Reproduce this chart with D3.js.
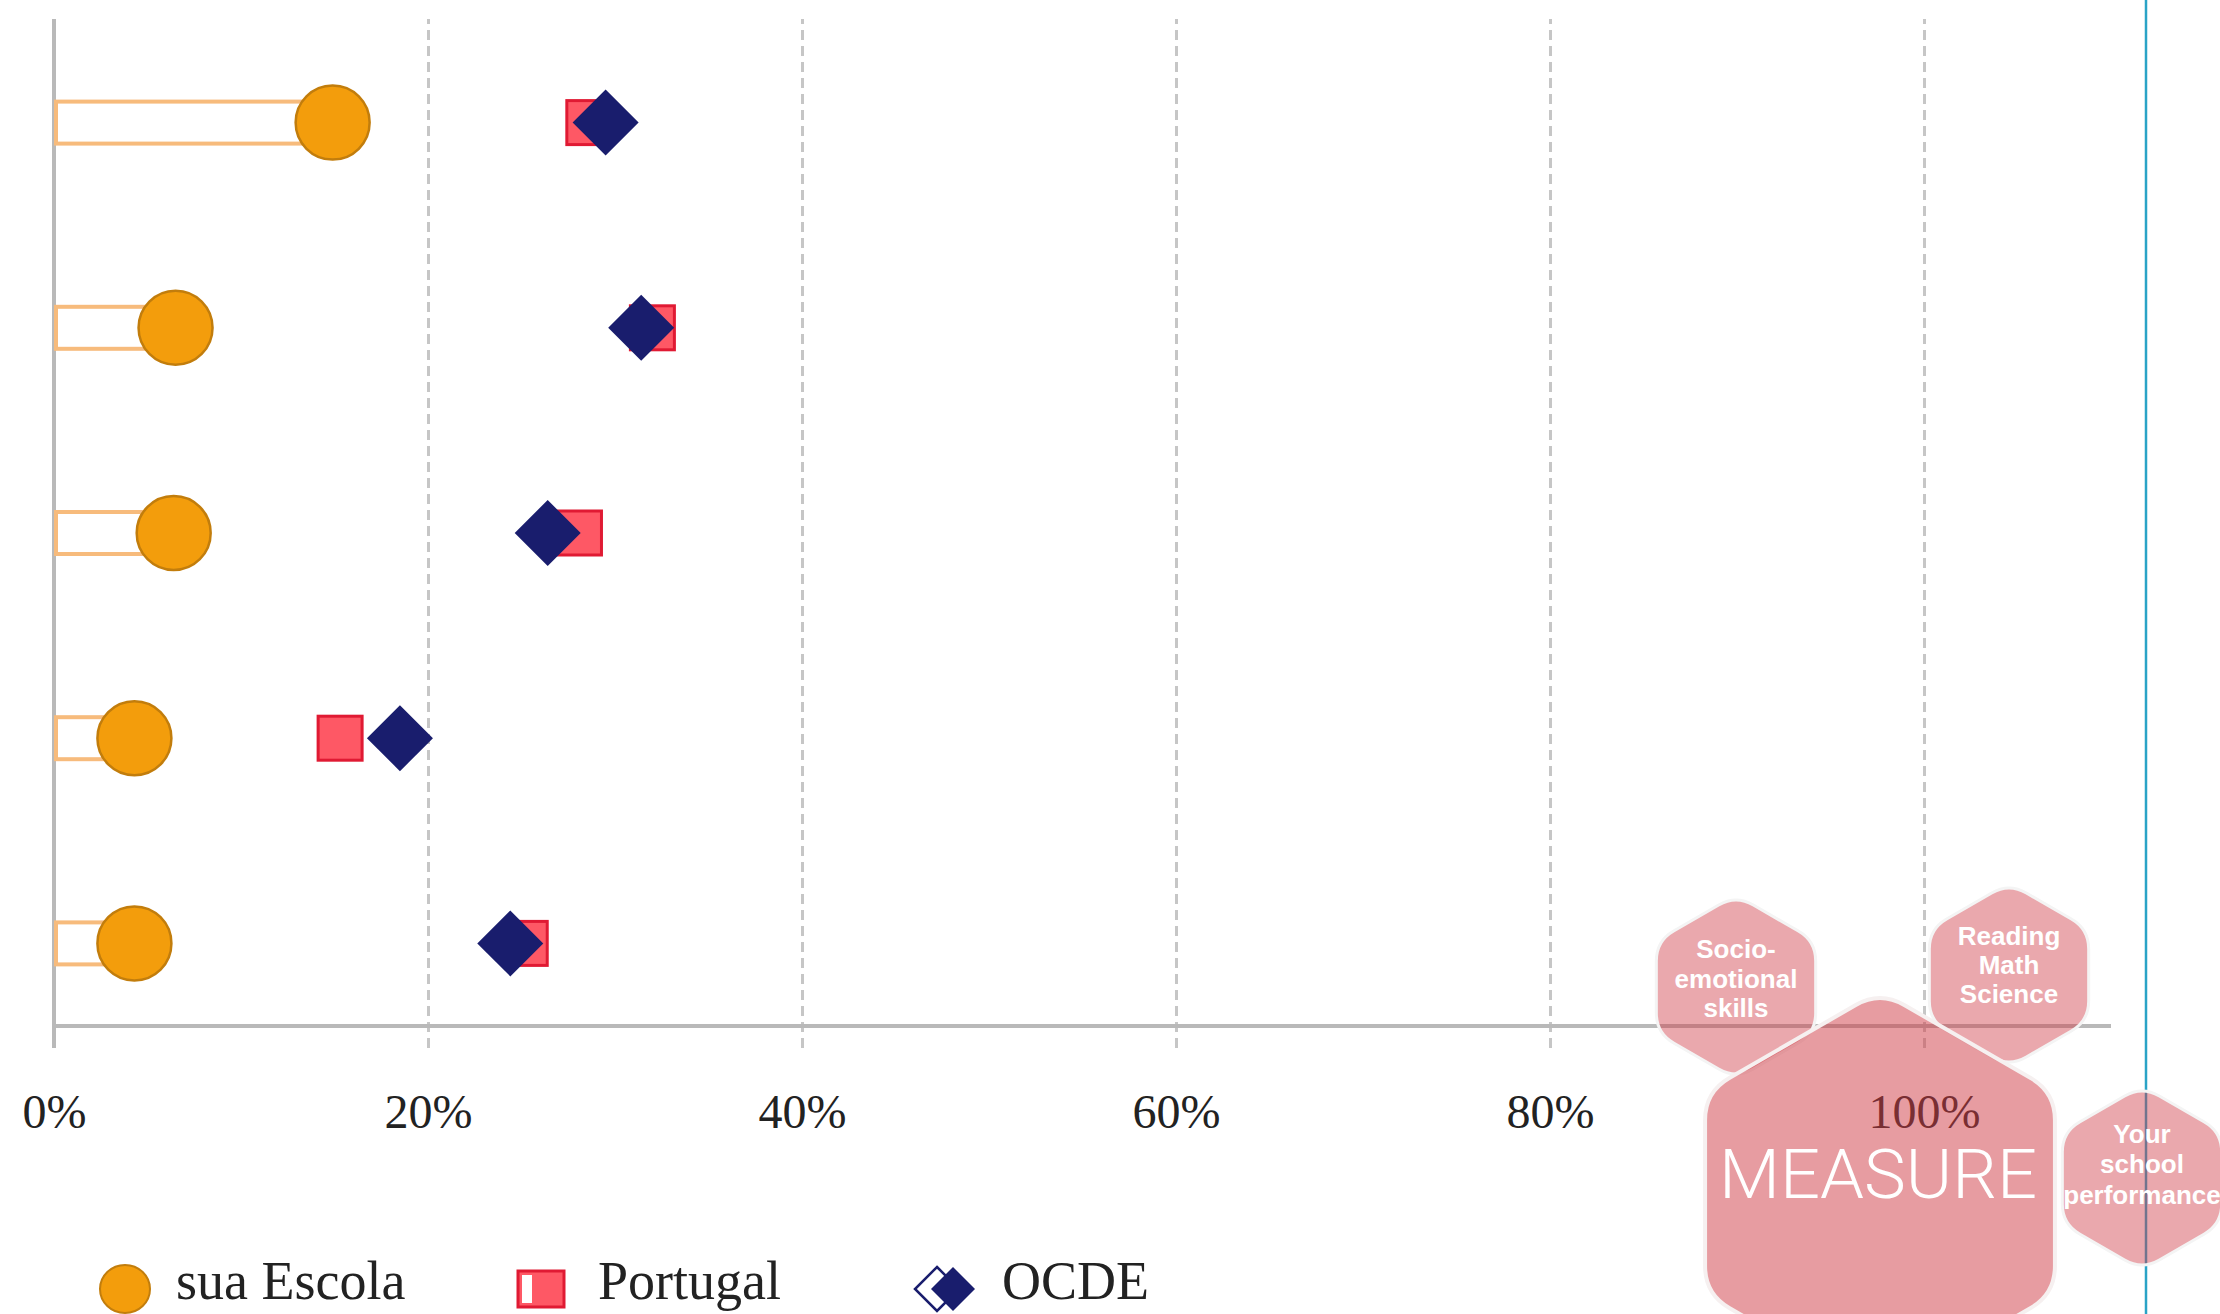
<!DOCTYPE html>
<html>
<head>
<meta charset="utf-8">
<script src="https://cdn.jsdelivr.net/npm/d3@7"></script>
<style>
  html, body { margin: 0; padding: 0; background: #ffffff; }
  svg { display: block; }
</style>
</head>
<body>
<svg id="chart" width="2220" height="1314"></svg>
<script>
// ---------- data ----------
const categories = ["Item 1", "Item 2", "Item 3", "Item 4", "Item 5"];
const escola   = [14.9, 6.5, 6.4, 4.3, 4.3];
const portugal = [28.6, 32.0, 28.1, 15.3, 25.2];
const ocde     = [29.5, 31.4, 26.4, 18.5, 24.4];
const tickValues = [0, 20, 40, 60, 80, 100];
const tickLabels = ["0%", "20%", "40%", "60%", "80%", "100%"];
const seriesNames = ["sua Escola", "Portugal", "OCDE"];
const hexSmallLabels = [
  ["Socio-", "emotional", "skills"],
  ["Reading", "Math", "Science"],
  ["Your", "school", "performance"]
];
const hexBigLabel = "MEASURE";

// ---------- setup ----------
const svg = d3.select("#chart");
const x = d3.scaleLinear().domain([0, 100]).range([54, 1924]);
const y = d3.scaleBand().domain(categories).range([20, 1046]).padding(0);
const cy = d => y(d) + y.bandwidth() / 2;
const axisY = 1026, gridTop = 19, gridBottom = 1048;

const C = {
  orange: "#f39d0c", orangeStroke: "#c27d0c", barStroke: "#f7bb7c",
  red: "#fe5865", redStroke: "#e01a33", navy: "#191d6d",
  grid: "#c6c6c6", axis: "#b9b9b9"
};

// ---------- gridlines ----------
const grid = svg.append("g")
  .attr("transform", `translate(0,${gridBottom})`)
  .call(d3.axisBottom(x).tickValues(tickValues.filter(v => v > 0))
    .tickSize(-(gridBottom - gridTop)).tickFormat(""));
grid.select(".domain").remove();
grid.selectAll(".tick line")
  .attr("stroke", C.grid).attr("stroke-width", 3).attr("stroke-dasharray", "10,6");

// vertical axis line at 0
svg.append("line")
  .attr("x1", x(0)).attr("x2", x(0)).attr("y1", gridTop).attr("y2", gridBottom)
  .attr("stroke", C.axis).attr("stroke-width", 4);

// horizontal axis line
svg.append("line")
  .attr("x1", x(0)).attr("x2", x(110)).attr("y1", axisY).attr("y2", axisY)
  .attr("stroke", C.axis).attr("stroke-width", 4);

// tick labels
const ax = svg.append("g")
  .attr("transform", `translate(0,${axisY})`)
  .call(d3.axisBottom(x).tickValues(tickValues).tickSize(0)
    .tickFormat((d, i) => tickLabels[i]));
ax.select(".domain").remove();
ax.selectAll(".tick text")
  .attr("y", 102).attr("dy", 0)
  .attr("fill", "#222")
  .style("font-family", "'Liberation Serif', 'DejaVu Serif', serif")
  .style("font-size", "48px");

// ---------- marks ----------
const rows = categories.map((c, i) => ({ c, e: escola[i], p: portugal[i], o: ocde[i] }));

// bars (outlined)
svg.append("g").selectAll("rect").data(rows).join("rect")
  .attr("x", x(0) + 2)
  .attr("y", d => cy(d.c) - 21)
  .attr("width", d => x(d.e) - x(0) - 2)
  .attr("height", 42)
  .attr("fill", "#fff")
  .attr("stroke", C.barStroke)
  .attr("stroke-width", 4);

// school circles
svg.append("g").selectAll("circle").data(rows).join("circle")
  .attr("cx", d => x(d.e)).attr("cy", d => cy(d.c)).attr("r", 37)
  .attr("fill", C.orange).attr("stroke", C.orangeStroke).attr("stroke-width", 2.5);

// Portugal squares
const sq = 44;
svg.append("g").selectAll("rect").data(rows).join("rect")
  .attr("x", d => x(d.p) - sq / 2).attr("y", d => cy(d.c) - sq / 2)
  .attr("width", sq).attr("height", sq)
  .attr("fill", C.red).attr("stroke", C.redStroke).attr("stroke-width", 3);

// OCDE diamonds
const dm = 33;
const diamond = (cx, cyy, h) => `M${cx},${cyy - h}L${cx + h},${cyy}L${cx},${cyy + h}L${cx - h},${cyy}Z`;
svg.append("g").selectAll("path").data(rows).join("path")
  .attr("d", d => diamond(x(d.o), cy(d.c), dm))
  .attr("fill", C.navy);

// ---------- legend ----------
const lg = svg.append("g");
const legendFont = "'Liberation Serif', 'DejaVu Serif', serif";
const legendY = 1287;
lg.append("ellipse").attr("cx", 125).attr("cy", legendY + 2).attr("rx", 25).attr("ry", 24)
  .attr("fill", C.orange).attr("stroke", C.orangeStroke).attr("stroke-width", 2);
lg.append("rect").attr("x", 518).attr("y", legendY - 16).attr("width", 46).attr("height", 36)
  .attr("fill", C.red).attr("stroke", C.redStroke).attr("stroke-width", 3);
lg.append("rect").attr("x", 522).attr("y", legendY - 12).attr("width", 10).attr("height", 28)
  .attr("fill", "#fff");
lg.append("path").attr("d", diamond(937, legendY + 2, 22))
  .attr("fill", "#fff").attr("stroke", C.navy).attr("stroke-width", 2.5);
lg.append("path").attr("d", diamond(953, legendY + 2, 22)).attr("fill", C.navy);
const legendX = [176, 598, 1002];
seriesNames.forEach((s, i) => {
  lg.append("text").attr("x", legendX[i]).attr("y", legendY + 12)
    .attr("fill", "#222")
    .style("font-family", legendFont).style("font-size", "54px")
    .text(s);
});

// ---------- cyan vertical line ----------
svg.append("line").attr("x1", 2146).attr("x2", 2146).attr("y1", 0).attr("y2", 1314)
  .attr("stroke", "#2aa3c6").attr("stroke-width", 2.5);

// ---------- MEASURE watermark hexagons ----------
function roundedHex(cx, cyy, R, rr) {
  const v = d3.range(6).map(k => {
    const a = (-90 + 60 * k) * Math.PI / 180;
    return [cx + R * Math.cos(a), cyy + R * Math.sin(a)];
  });
  let p = "";
  for (let k = 0; k < 6; k++) {
    const prev = v[(k + 5) % 6], cur = v[k], next = v[(k + 1) % 6];
    const d1 = Math.hypot(prev[0] - cur[0], prev[1] - cur[1]);
    const a1 = [cur[0] + (prev[0] - cur[0]) * rr / d1, cur[1] + (prev[1] - cur[1]) * rr / d1];
    const a2 = [cur[0] + (next[0] - cur[0]) * rr / d1, cur[1] + (next[1] - cur[1]) * rr / d1];
    p += (k === 0 ? "M" : "L") + a1[0] + "," + a1[1] + "Q" + cur[0] + "," + cur[1] + " " + a2[0] + "," + a2[1];
  }
  return p + "Z";
}
const hexG = svg.append("g");
const smallHex = [
  { cx: 1736, cy: 987 },
  { cx: 2009, cy: 975 },
  { cx: 2142, cy: 1178 }
];
smallHex.forEach((h, i) => {
  hexG.append("path").attr("d", roundedHex(h.cx, h.cy, 92, 20))
    .attr("fill", "#d03a44").attr("fill-opacity", 0.44)
    .attr("stroke", "#f4f4f4").attr("stroke-width", 3);
});
hexG.append("path").attr("d", roundedHex(1880, 1193, 202, 28))
  .attr("fill", "#d03a44").attr("fill-opacity", 0.5)
  .attr("stroke", "#f6f0f0").attr("stroke-width", 4);

const baseY = [[958, 988, 1017], [945, 974, 1003], [1143, 1173, 1204]];
smallHex.forEach((h, i) => {
  hexSmallLabels[i].forEach((t, j) => {
    hexG.append("text").attr("x", h.cx).attr("y", baseY[i][j])
      .attr("text-anchor", "middle").attr("fill", "#fff")
      .style("font-family", "'Liberation Sans', Arial, sans-serif")
      .style("font-weight", "bold").style("font-size", "26px")
      .text(t);
  });
});
hexG.append("text").attr("x", 1878).attr("y", 1198)
  .attr("text-anchor", "middle").attr("fill", "#fff")
  .attr("textLength", 318).attr("lengthAdjust", "spacingAndGlyphs")
  .style("font-family", "Roboto, 'Open Sans', sans-serif")
  .style("font-weight", "300").style("font-size", "68px")
  .text(hexBigLabel);
</script>
</body>
</html>
